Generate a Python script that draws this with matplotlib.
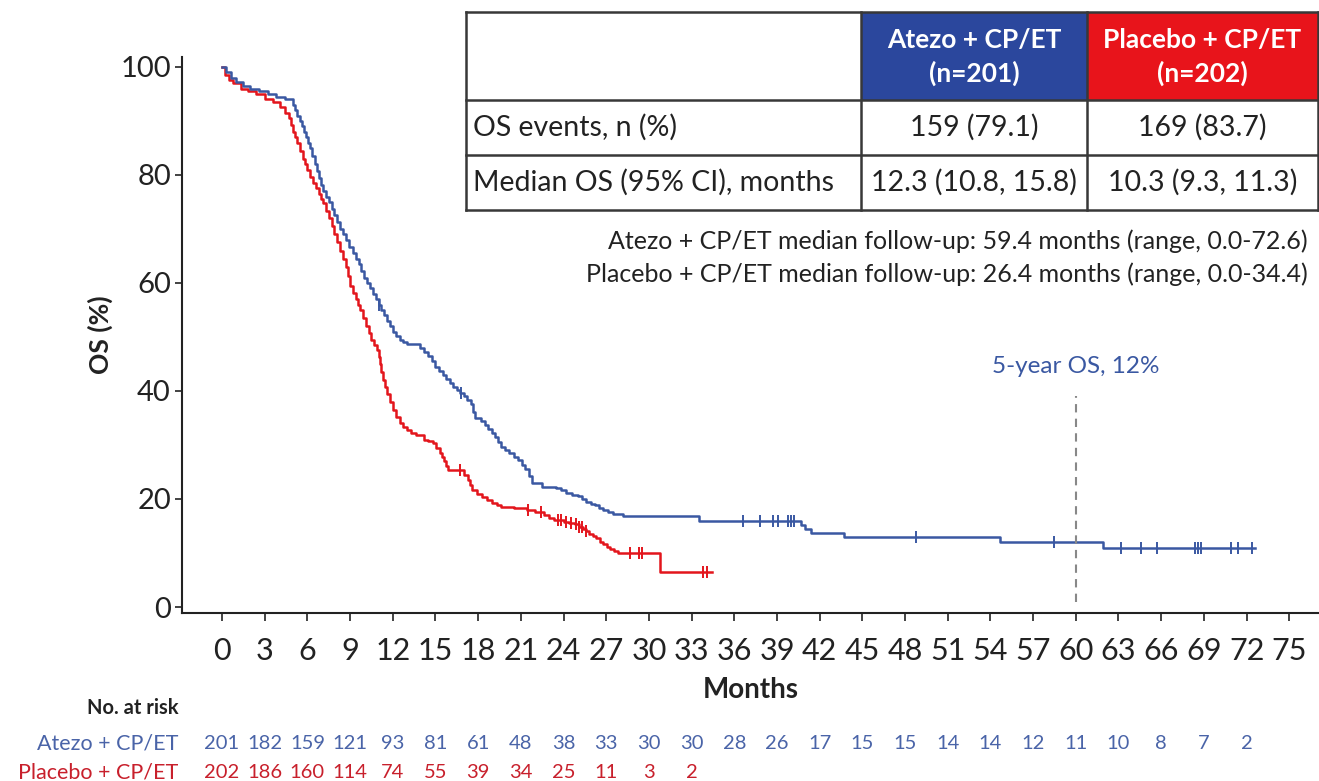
import numpy as np
import matplotlib
matplotlib.use('Agg')
import matplotlib.pyplot as plt
from matplotlib.patches import Rectangle

plt.rcParams['font.family'] = ['Lato', 'DejaVu Sans']

# KM step points (months, OS %)
atezo_t = [0, 0.3, 0.6, 1.0, 1.5, 2.0, 2.6, 3.2, 3.8, 4.4, 5.0, 5.15, 5.3, 5.45, 5.6, 5.75,
           5.9, 6.05, 6.2, 6.35, 6.5, 6.65, 6.8, 6.95, 7.1, 7.3, 7.5, 7.7, 7.9, 8.1, 8.3,
           8.5, 8.7, 8.95, 9.2, 9.4, 9.6, 9.8, 10.0, 10.2, 10.4, 10.6, 10.8, 11.0, 11.2,
           11.4, 11.6, 11.8, 12.0, 12.25, 12.5, 12.75, 13.0, 13.9, 14.2, 14.5, 14.75, 15.0,
           15.25, 15.5, 15.75, 16.0, 16.25, 16.5, 16.75, 17.0, 17.25, 17.5, 17.65, 17.8,
           18.2, 18.45, 18.7, 18.95, 19.2, 19.4, 19.6, 19.9, 20.2, 20.5, 20.8, 21.05, 21.3,
           21.55, 21.8, 22.5, 23.5, 23.85, 24.2, 24.6, 25.0, 25.3, 25.6, 25.9, 26.2, 26.5,
           26.8, 27.15, 27.5, 28.2, 33.5, 40.7, 41.0, 41.4, 43.7, 54.7, 61.9, 72.6]
atezo_s = [100, 99, 98, 97.2, 96.5, 96, 95.5, 95, 94.5, 94, 93, 92, 91, 90, 89, 88,
           87, 86, 85, 83.5, 82, 80.7, 79.5, 78.2, 77, 76, 75, 73.7, 72.5, 71.2, 70,
           69, 68, 66.7, 65.5, 64.5, 63.5, 62.2, 61, 60, 59, 58, 57, 56, 55,
           54, 53, 52, 51, 50.2, 49.5, 49.1, 48.7, 48, 47.3, 46.5, 45.5, 44.5,
           43.7, 43, 42.2, 41.5, 40.8, 40.2, 39.6, 39, 38.3, 37.5, 36.2, 35,
           34.5, 33.7, 33, 32.2, 31.5, 30.5, 29.6, 29, 28.5, 27.8, 27.2, 26.3, 25.5,
           24.2, 23, 22.3, 22, 21.6, 21.2, 20.8, 20.5, 20, 19.5, 19.1, 18.8, 18.4,
           18, 17.6, 17.2, 16.9, 15.9, 15.2, 14.4, 13.7, 13.0, 12.0, 11.0, 11.0]
atezo_cens = [11.0, 16.8, 36.6, 37.8, 38.7, 39.1, 39.8, 40.0, 40.2, 48.8, 58.5,
              63.2, 64.6, 65.7, 68.4, 68.6, 68.8, 70.9, 71.4, 72.4]

placebo_t = [0, 0.2, 0.5, 0.8, 1.3, 1.8, 2.4, 3.0, 3.6, 4.1, 4.4, 4.7, 4.85, 5.0, 5.15, 5.3,
             5.5, 5.7, 5.85, 6.0, 6.2, 6.4, 6.6, 6.8, 6.95, 7.1, 7.3, 7.5, 7.7, 7.9, 8.1,
             8.3, 8.5, 8.7, 8.85, 9.0, 9.2, 9.4, 9.55, 9.7, 9.9, 10.1, 10.3, 10.5, 10.7,
             10.9, 11.0, 11.1, 11.2, 11.3, 11.45, 11.6, 11.8, 12.0, 12.25, 12.5, 12.75, 13.0,
             13.3, 13.6, 14.2, 14.5, 14.8, 15.05, 15.3, 15.45, 15.6, 15.75, 15.9, 17.0, 17.3,
             17.45, 17.6, 17.95, 18.3, 18.65, 19.0, 19.3, 19.6, 20.5, 21.4, 22.0, 22.6, 22.95,
             23.3, 24.0, 24.4, 24.8, 25.1, 25.4, 25.6, 25.8, 26.05, 26.3, 26.55, 26.8, 27.05,
             27.3, 27.55, 27.8, 30.8, 34.4]
placebo_s = [100, 98.5, 97.5, 97, 96, 95.5, 95, 94, 93.5, 92.6, 91.5, 90.5, 89.2, 88, 87, 86,
             84.5, 83, 82, 81, 79.7, 78.5, 77.5, 76.5, 75.6, 74.8, 73.4, 72, 70.5, 69, 67.5,
             66, 64.5, 63, 61.2, 59.5, 58.2, 57, 56, 55, 53.5, 52, 50.7, 49.5, 48.5,
             47.6, 46.3, 45, 43.5, 42, 40.7, 39.5, 38, 36.5, 35.2, 34, 33.4, 32.8,
             32.3, 31.8, 31, 30.7, 30.4, 29.5, 28.5, 27.7, 27, 26.2, 25.4, 24.5, 23.5,
             22.6, 21.7, 21, 20.3, 19.8, 19.3, 18.9, 18.5, 18.3, 18, 17.5, 17, 16.5,
             16.1, 15.8, 15.5, 15.3, 14.9, 14.5, 14, 13.5, 13.1, 12.7, 12.1, 11.6, 11.2,
             10.8, 10.4, 10.0, 6.5, 6.5]
placebo_cens = [16.7, 21.5, 22.4, 23.6, 23.8, 24.2, 24.5, 24.9, 25.1, 25.3, 25.6,
                28.7, 29.3, 29.5, 33.8, 34.1]

risk_months = list(range(0, 75, 3))
atezo_risk = [201, 182, 159, 121, 93, 81, 61, 48, 38, 33, 30, 30, 28, 26, 17, 15, 15, 14, 14,
              12, 11, 10, 8, 7, 2]
placebo_risk = [202, 186, 160, 114, 74, 55, 39, 34, 25, 11, 3, 2]

arms = ['Atezo + CP/ET\n(n=201)', 'Placebo + CP/ET\n(n=202)']
row_labels = ['OS events, n (%)', 'Median OS (95% CI), months']
atezo_cells = ['159 (79.1)', '12.3 (10.8, 15.8)']
placebo_cells = ['169 (83.7)', '10.3 (9.3, 11.3)']
followup = ['Atezo + CP/ET median follow-up: 59.4 months (range, 0.0-72.6)',
            'Placebo + CP/ET median follow-up: 26.4 months (range, 0.0-34.4)']

blue = '#3a58a2'
red = '#e3151c'
txt = '#222222'

fig = plt.figure(figsize=(13.19, 7.81), dpi=100)
ax = fig.add_axes([0.138, 0.2151, 0.862, 0.712])


def surv_at(t, s, c):
    idx = np.searchsorted(t, c, side='right') - 1
    return np.array(s)[idx]


ax.plot(placebo_t, placebo_s, drawstyle='steps-post', color=red, lw=1.8)
ax.plot(atezo_t, atezo_s, drawstyle='steps-post', color=blue, lw=1.8)
ax.plot(placebo_cens, surv_at(placebo_t, placebo_s, placebo_cens), ls='none',
        marker='|', ms=8, mew=1.4, color=red)
ax.plot(atezo_cens, surv_at(atezo_t, atezo_s, atezo_cens), ls='none',
        marker='|', ms=8, mew=1.4, color=blue)

ax.axvline(60, ymin=0.02, ymax=0.39, color='#888888', ls=(0, (4, 3)), lw=1.5)
ax.text(60, 44.5, '5-year OS, 12%', color=blue, ha='center', va='center', fontsize=17.5)

ax.set_xlim(-2.81, 77.09)
ax.set_ylim(-1.11, 101.85)
ax.set_xticks(range(0, 76, 3))
ax.set_yticks(range(0, 101, 20))
ax.spines['top'].set_visible(False)
ax.spines['right'].set_visible(False)
for sp in ['left', 'bottom']:
    ax.spines[sp].set_linewidth(1.5)
    ax.spines[sp].set_color(txt)
ax.tick_params(axis='x', labelsize=22, length=6, width=1.2, pad=11, colors=txt)
ax.tick_params(axis='y', labelsize=21, length=5, width=1.2, pad=3, colors=txt)

ax.text(-0.072, 0.5, 'OS (%)', transform=ax.transAxes, rotation=90, ha='center',
        va='center', fontsize=19, fontweight='bold', color=txt)
ax.text(0.5, -0.138, 'Months', transform=ax.transAxes, ha='center', va='center',
        fontsize=20, fontweight='bold', color=txt)
ax.text(-0.003, -0.171, 'No. at risk', transform=ax.transAxes, ha='right', va='center',
        fontsize=14.5, fontweight='bold', color=txt)
ax.text(-0.003, -0.234, 'Atezo + CP/ET', transform=ax.transAxes, ha='right', va='center',
        fontsize=15.5, color='#4a64a8')
ax.text(-0.003, -0.286, 'Placebo + CP/ET', transform=ax.transAxes, ha='right', va='center',
        fontsize=15.5, color='#c8202c')
trans = ax.get_xaxis_transform()
for m, n in zip(risk_months, atezo_risk):
    ax.text(m, -0.234, str(n), transform=trans, ha='center', va='center',
            fontsize=14.5, color='#4a64a8')
for m, n in zip(risk_months, placebo_risk):
    ax.text(m, -0.286, str(n), transform=trans, ha='center', va='center',
            fontsize=14.5, color='#c8202c')

# table overlay in pixel space
ov = fig.add_axes([0, 0, 1, 1], zorder=5)
ov.set_xlim(0, 1319)
ov.set_ylim(781, 0)
ov.axis('off')
ov.patch.set_alpha(0)
cols = [466, 861, 1087, 1318]
rows = [12, 100, 155, 210]
ov.add_patch(Rectangle((cols[0], rows[0]), cols[3] - cols[0], rows[3] - rows[0],
                       facecolor='white', edgecolor='none'))
ov.add_patch(Rectangle((cols[1], rows[0]), cols[2] - cols[1], rows[1] - rows[0],
                       facecolor='#2b479d', edgecolor='none'))
ov.add_patch(Rectangle((cols[2], rows[0]), cols[3] - cols[2], rows[1] - rows[0],
                       facecolor='#e8141b', edgecolor='none'))
for y in rows:
    ov.plot([cols[0], cols[3]], [y, y], color='#383838', lw=1.8)
for x in cols:
    ov.plot([x, x], [rows[0], rows[3]], color='#383838', lw=1.8)
for i, a in enumerate(arms):
    cx = (cols[i + 1] + cols[i + 2]) / 2
    ov.text(cx, (rows[0] + rows[1]) / 2 + 1, a, ha='center', va='center', color='white',
            fontsize=19, fontweight='bold', linespacing=1.45)
for j, lab in enumerate(row_labels):
    cy = (rows[j + 1] + rows[j + 2]) / 2
    ov.text(cols[0] + 7, cy, lab, ha='left', va='center', fontsize=20.5, color=txt)
    ov.text((cols[1] + cols[2]) / 2, cy, atezo_cells[j], ha='center', va='center',
            fontsize=20.5, color=txt)
    ov.text((cols[2] + cols[3]) / 2, cy, placebo_cells[j], ha='center', va='center',
            fontsize=20.5, color=txt)
ov.text(1308, 241, followup[0], ha='right', va='center', fontsize=18, color=txt)
ov.text(1308, 274, followup[1], ha='right', va='center', fontsize=18, color=txt)

fig.savefig('out.png', dpi=100)
